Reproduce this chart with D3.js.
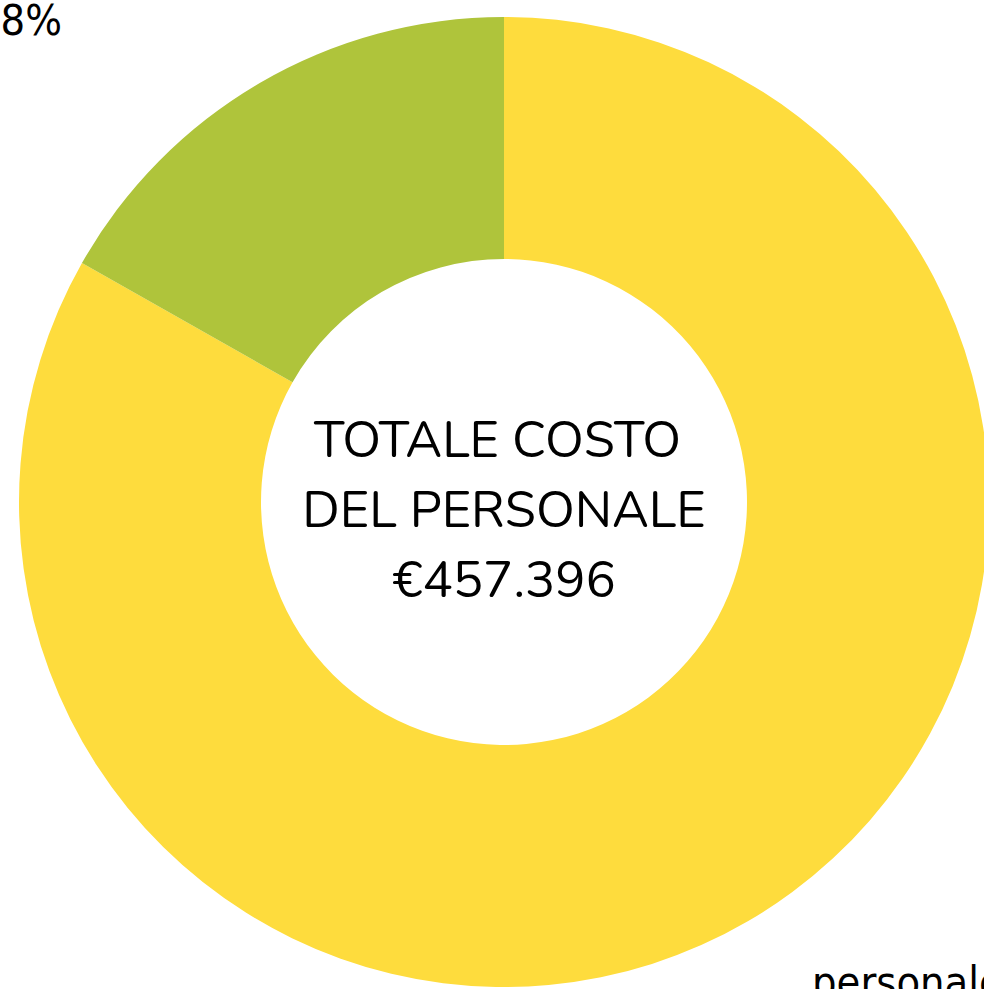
<!DOCTYPE html>
<html>
<head>
<meta charset="utf-8" />
<script src="https://d3js.org/d3.v7.min.js"></script>
<style>
body { margin: 0; background: #fff; overflow: hidden; }
.center text {
  font-family: "Nunito", "Open Sans", Lato, sans-serif;
  font-size: 50.5px;
  fill: #000;
  text-anchor: middle;
  white-space: pre;
}
.lbl {
  font-family: "DejaVu Sans Condensed", "Liberation Sans Narrow", sans-serif;
  font-size: 43px;
  fill: #000;
}
</style>
</head>
<body>
<script>
// data
var categories = ["Costo del personale", "Altro"];
var values = [83.2, 16.8];
var colors = ["#fedc3d", "#afc43b"];
var pctLabels = ["83.2%", "16.8%"];
var centerLines = ["TOTALE COSTO ", "DEL PERSONALE", "\u20ac457.396"];

var width = 984, height = 989,
    cx = 504, cy = 502,
    outer = 485, inner = 243;

var svg = d3.select("body").append("svg")
    .attr("width", width)
    .attr("height", height);

var g = svg.append("g")
    .attr("transform", "translate(" + cx + "," + cy + ")");

var pie = d3.pie().sort(null).value(function(d) { return d; });
var arc = d3.arc().innerRadius(inner).outerRadius(outer);

var arcs = pie(values);

g.selectAll(".slice")
    .data(arcs)
  .enter().append("path")
    .attr("class", "slice")
    .attr("fill", function(d, i) { return colors[i]; })
    .attr("d", arc);

// centre text
var c = g.append("g").attr("class", "center");
c.selectAll("text")
    .data(centerLines)
  .enter().append("text")
    .attr("x", 0)
    .attr("y", function(d, i) { return -45 + i * 70; })
    .text(function(d) { return d; });

// outside labels (the picture is cropped, only parts are visible)
svg.append("text")
    .attr("class", "lbl")
    .attr("x", 62).attr("y", 35)
    .style("text-anchor", "end")
    .text(pctLabels[1]);

svg.append("text")
    .attr("class", "lbl")
    .attr("x", 812).attr("y", 997)
    .style("text-anchor", "start")
    .text("personale");
</script>
</body>
</html>
